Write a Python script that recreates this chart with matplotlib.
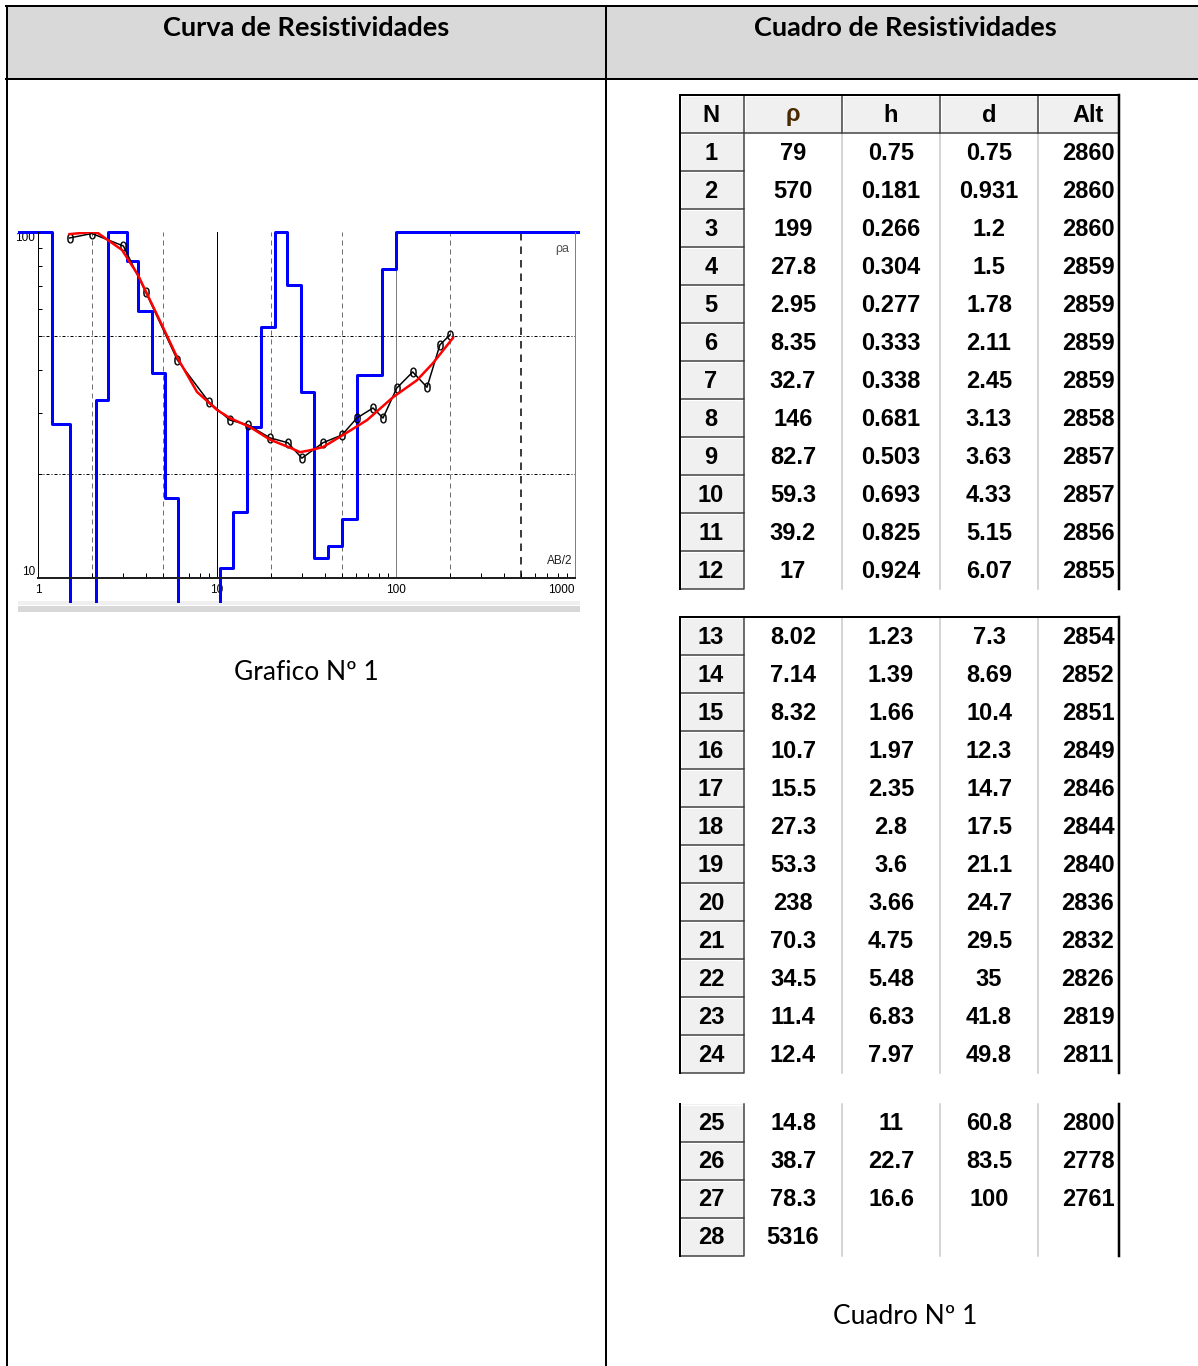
import numpy as np
import matplotlib
matplotlib.use('Agg')
import matplotlib.pyplot as plt
from matplotlib.patches import Rectangle
from matplotlib.transforms import Bbox, TransformedBbox

W, H = 1198, 1366

# modelo de capas (inversion)
rho = [79, 570, 199, 27.8, 2.95, 8.35, 32.7, 146, 82.7, 59.3, 39.2, 17,
       8.02, 7.14, 8.32, 10.7, 15.5, 27.3, 53.3, 238, 70.3, 34.5, 11.4, 12.4,
       14.8, 38.7, 78.3, 5316]
h = [0.75, 0.181, 0.266, 0.304, 0.277, 0.333, 0.338, 0.681, 0.503, 0.693, 0.825, 0.924,
     1.23, 1.39, 1.66, 1.97, 2.35, 2.8, 3.6, 3.66, 4.75, 5.48, 6.83, 7.97,
     11, 22.7, 16.6]
d = [0.75, 0.931, 1.2, 1.5, 1.78, 2.11, 2.45, 3.13, 3.63, 4.33, 5.15, 6.07,
     7.3, 8.69, 10.4, 12.3, 14.7, 17.5, 21.1, 24.7, 29.5, 35, 41.8, 49.8,
     60.8, 83.5, 100]
alt = [2860, 2860, 2860, 2859, 2859, 2859, 2859, 2858, 2857, 2857, 2856, 2855,
       2854, 2852, 2851, 2849, 2846, 2844, 2840, 2836, 2832, 2826, 2819, 2811,
       2800, 2778, 2761]

# curva de campo (AB/2, rho aparente)
ab2 = [1.5, 2, 3, 4, 6, 9, 11.8, 14.9, 19.8, 24.9, 29.8, 39.1, 49.9, 60.5,
       74.4, 84.6, 101, 124, 149, 176, 200]
rho_a = [96.1, 99, 91.1, 67, 42.7, 32.3, 28.6, 27.7, 25.4, 24.6, 22.2, 24.6,
         25.9, 29.0, 31.0, 29.0, 35.4, 39.4, 35.6, 47.2, 50.4]

# curva calculada del modelo
ab2_fit = [1.5, 2.0, 2.16, 2.95, 3.62, 4.93, 5.98, 7.73, 10, 11.8, 15.3, 19.8,
           25.6, 29.1, 33.1, 39.1, 50.6, 68.9, 96.2, 131, 161, 208]
rho_fit = [98.6, 100, 99.3, 88.7, 75.1, 53.8, 43.5, 34.5, 30.6, 29.0, 27.3, 25.1,
           23.8, 23.1, 23.4, 23.9, 25.9, 28.6, 33.3, 37.3, 41.8, 49.4]

col_names = ['N', 'ρ', 'h', 'd', 'Alt']
blocks = [(1, 12), (13, 24), (25, 28)]

TITLE_FONT = ['Lato', 'DejaVu Sans']
CELL_FONT = ['Liberation Sans', 'DejaVu Sans']


def fmt(v):
    return '{:g}'.format(v)


fig = plt.figure(figsize=(W / 100, H / 100), dpi=100)
page = fig.add_axes([0, 0, 1, 1])
page.set_xlim(0, W)
page.set_ylim(H, 0)
page.axis('off')

px = 0.72  # 1 px in points

# marco del documento
page.add_patch(Rectangle((7, 7), W - 7, 72, fc='#d9d9d9', ec='none'))
page.plot([6, W], [6, 6], color='black', lw=2 * px)
page.plot([6, W], [79, 79], color='black', lw=2 * px)
page.plot([6.5, 6.5], [6, H], color='black', lw=2 * px)
page.plot([606, 606], [6, H], color='black', lw=2 * px)

page.text(306, 28, 'Curva de Resistividades', ha='center', va='center',
          fontsize=19.5, fontweight='bold', family=TITLE_FONT)
page.text(905, 28, 'Cuadro de Resistividades', ha='center', va='center',
          fontsize=19.5, fontweight='bold', family=TITLE_FONT)
page.text(306, 672, 'Grafico Nº 1', ha='center', va='center',
          fontsize=19, family=TITLE_FONT)
page.text(905, 1317, 'Cuadro Nº 1', ha='center', va='center',
          fontsize=19, family=TITLE_FONT)

# cuadro de resistividades
cols = [680, 744, 842, 940, 1038, 1119]
centers = [711, 793, 891, 989, 1088]
row_h = 38
tops = [95, 617, 1104]


def button(x0, y0, x1, y1):
    page.add_patch(Rectangle((x0, y0), x1 - x0, y1 - y0, fc='#f0f0f0', ec='none', zorder=2))
    page.plot([x0 + 1, x1 - 1], [y0 + 1, y0 + 1], color='white', lw=px, zorder=3)
    page.plot([x0 + 1, x0 + 1], [y0 + 1, y1 - 1], color='white', lw=px, zorder=3)
    page.plot([x0, x1, x1], [y1, y1, y0], color='#404040', lw=1.5 * px, zorder=3)


for b, ((first, last), top) in enumerate(zip(blocks, tops)):
    y = top
    if b == 0:
        for j in range(5):
            button(cols[j], y, cols[j + 1], y + row_h)
            page.text(centers[j], y + row_h / 2 + 1, col_names[j], ha='center', va='center',
                      fontsize=17, fontweight='bold', family=CELL_FONT,
                      color='#4a2a00' if j == 1 else 'black', zorder=4)
        y += row_h
    y_start = y
    for n in range(first, last + 1):
        i = n - 1
        button(cols[0], y, cols[1], y + row_h)
        vals = [str(n), fmt(rho[i])]
        if i < len(h):
            vals += [fmt(h[i]), fmt(d[i]), str(alt[i])]
        for j, v in enumerate(vals):
            page.text(centers[j], y + row_h / 2 + 1, v, ha='center', va='center',
                      fontsize=17, fontweight='bold', family=CELL_FONT, zorder=4)
        y += row_h
    for x in cols[2:5]:
        page.plot([x, x], [y_start, y], color='#c8c8c8', lw=1.5 * px, zorder=1)
    page.plot([cols[0], cols[0]], [top, y], color='black', lw=2 * px, zorder=5)
    page.add_patch(Rectangle((cols[5] + 1, top), 40, y - top, fc='white', ec='none', zorder=5))
    page.plot([cols[5], cols[5]], [top, y], color='black', lw=2.5 * px, zorder=6)
    if b < 2:
        page.plot([cols[0], cols[5]], [top, top], color='black', lw=2 * px, zorder=6)

# barra gris bajo el grafico
page.add_patch(Rectangle((18, 601), 562, 4, fc='#efefef', ec='none'))
page.add_patch(Rectangle((18, 606), 562, 6, fc='#d8d8d8', ec='none'))

# curva de resistividades (log-log)
ax = fig.add_axes([38 / W, 1 - 578 / H, (575 - 38) / W, (578 - 232) / H])
ax.set_xscale('log')
ax.set_yscale('log')
ax.set_xlim(1, 1000)
ax.set_ylim(10, 100)

for xv in [2, 5, 20, 50, 200]:
    ax.axvline(xv, color='#707070', lw=1 * px, dashes=(5, 4), zorder=1)
ax.axvline(500, color='black', lw=1.5 * px, dashes=(5, 4), zorder=1)
ax.axvline(10, color='black', lw=1 * px, zorder=1)
ax.axvline(100, color='#808080', lw=1 * px, zorder=1)
for yv in [20, 50]:
    ax.axhline(yv, color='black', lw=1 * px, dashes=(3, 2, 1, 2), zorder=1)

# modelo: escalones de rho vs profundidad, limitado arriba en 100
xs = np.concatenate([[0.3], d, [3000]])
ys = np.minimum(np.concatenate([rho, [rho[-1]]]), 100)
step, = ax.step(xs, ys, where='post', color='#0000ff', lw=3 * px, zorder=2)
clip = Bbox.from_extents(18 / W, 1 - 603 / H, 580 / W, 1 - 228 / H)
step.set_clip_box(TransformedBbox(clip, fig.transFigure))

ax.plot(ab2, rho_a, color='black', lw=1.5 * px, marker='$0$', ms=7,
        mec='black', mew=0.2, zorder=3)
ax.plot(ab2_fit, rho_fit, color='red', lw=2.5 * px, zorder=4)

minor_x = [m * 10 ** k for k in range(3) for m in range(2, 10)]
ax.set_xticks([1, 10, 100, 1000])
ax.set_xticklabels(['1', '10', '100', '1000'], fontsize=8.5, family=CELL_FONT)
ax.set_xticks(minor_x, minor=True)
ax.set_xticklabels([], minor=True)
ax.set_yticks([10, 100])
ax.set_yticklabels(['10', '100'], fontsize=8.5, family=CELL_FONT)
ax.set_yticks([m * 10 for m in range(2, 10)], minor=True)
ax.set_yticklabels([], minor=True)
ax.tick_params(axis='x', which='major', length=0, pad=4)
ax.tick_params(axis='x', which='minor', direction='in', length=5 * px, width=px, color='black')
ax.tick_params(axis='y', which='major', length=0, pad=2)
ax.tick_params(axis='y', which='minor', direction='in', length=4 * px, width=px, color='black')
ax.get_xticklabels()[-1].set_ha('right')
ylabs = ax.get_yticklabels()
ylabs[0].set_va('bottom')
ylabs[1].set_va('top')

ax.spines['top'].set_visible(False)
ax.spines['left'].set_linewidth(1 * px)
ax.spines['bottom'].set_linewidth(2 * px)
ax.spines['bottom'].set_color('#202020')
ax.spines['right'].set_color('#808080')
ax.spines['right'].set_linewidth(1 * px)

ax.text(0.99, 0.95, 'ρa', transform=ax.transAxes, ha='right', va='center',
        fontsize=9, color='#505050', family=CELL_FONT)
ax.text(0.995, 0.05, 'AB/2', transform=ax.transAxes, ha='right', va='center',
        fontsize=8.5, color='#202020', family=CELL_FONT)

fig.savefig('out.png', dpi=100)
